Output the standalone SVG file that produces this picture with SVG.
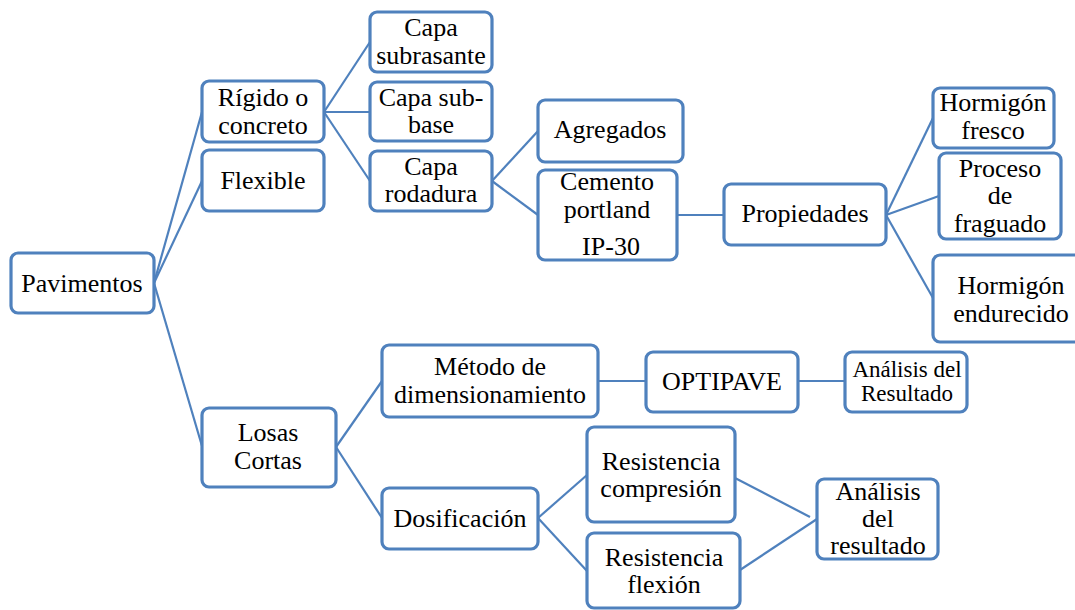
<svg xmlns="http://www.w3.org/2000/svg" width="1075" height="610" viewBox="0 0 1075 610">
<style>
.b{fill:#fff;stroke:#4F81BD;stroke-width:3.2}
.c line{stroke:#4F81BD;stroke-width:2.2}
.t{font-family:"Liberation Serif","Times New Roman",serif;font-size:26px;fill:#000;text-anchor:middle}
.s{font-size:23px}
</style>
<rect width="1075" height="610" fill="#fff"/>
<g class="c" id="connectors">
<line x1="154" y1="283" x2="202" y2="112"/>
<line x1="154" y1="283" x2="202" y2="181"/>
<line x1="154" y1="283" x2="202" y2="446"/>
<line x1="324" y1="112" x2="370" y2="42"/>
<line x1="324" y1="112" x2="370" y2="112"/>
<line x1="324" y1="112" x2="370" y2="181"/>
<line x1="492" y1="181" x2="538" y2="131"/>
<line x1="492" y1="181" x2="538" y2="215"/>
<line x1="677" y1="215" x2="724" y2="215"/>
<line x1="886" y1="215" x2="933" y2="118"/>
<line x1="886" y1="215" x2="939" y2="196"/>
<line x1="886" y1="215" x2="933" y2="298"/>
<line x1="336" y1="447" x2="382" y2="381"/>
<line x1="336" y1="447" x2="382" y2="518"/>
<line x1="598" y1="381" x2="646" y2="381"/>
<line x1="798" y1="381" x2="845" y2="381"/>
<line x1="538" y1="518" x2="587" y2="475"/>
<line x1="538" y1="518" x2="587" y2="571"/>
<line x1="735" y1="478" x2="810" y2="517"/>
<line x1="740" y1="570" x2="817" y2="519"/>
</g>
<g id="pavimentos"><rect class="b" x="11" y="253" width="143" height="60" rx="7"/><text class="t" x="82" y="292">Pavimentos</text></g>
<g id="rigido"><rect class="b" x="202" y="81" width="122" height="61" rx="7"/><text class="t" x="263" y="106">Rígido o</text><text class="t" x="263" y="134">concreto</text></g>
<g id="flexible"><rect class="b" x="202" y="150" width="122" height="61" rx="7"/><text class="t" x="263" y="189">Flexible</text></g>
<g id="losas"><rect class="b" x="202" y="408" width="134" height="79" rx="7"/><text class="t" x="268" y="441">Losas</text><text class="t" x="268" y="469">Cortas</text></g>
<g id="subrasante"><rect class="b" x="370" y="12" width="122" height="60" rx="7"/><text class="t" x="431" y="36">Capa</text><text class="t" x="431" y="64">subrasante</text></g>
<g id="subbase"><rect class="b" x="370" y="82" width="122" height="59" rx="7"/><text class="t" x="431" y="106">Capa sub-</text><text class="t" x="431" y="133">base</text></g>
<g id="rodadura"><rect class="b" x="370" y="151" width="122" height="60" rx="7"/><text class="t" x="431" y="175">Capa</text><text class="t" x="431" y="202">rodadura</text></g>
<g id="agregados"><rect class="b" x="538" y="100" width="145" height="62" rx="7"/><text class="t" x="610" y="138">Agregados</text></g>
<g id="cemento"><rect class="b" x="538" y="170" width="139" height="90" rx="7"/><text class="t" x="607" y="190">Cemento</text><text class="t" x="607" y="218">portland</text><text class="t" x="611" y="255">IP-30</text></g>
<g id="propiedades"><rect class="b" x="724" y="184" width="162" height="61" rx="7"/><text class="t" x="805" y="222">Propiedades</text></g>
<g id="fresco"><rect class="b" x="933" y="88" width="121" height="60" rx="7"/><text class="t" x="993" y="111">Hormigón</text><text class="t" x="993" y="139">fresco</text></g>
<g id="fraguado"><rect class="b" x="939" y="153" width="122" height="86" rx="7"/><text class="t" x="1000" y="177">Proceso</text><text class="t" x="1000" y="204">de</text><text class="t" x="1000" y="232">fraguado</text></g>
<g id="endurecido"><rect class="b" x="933" y="255" width="150" height="87" rx="7"/><text class="t" x="1011" y="294">Hormigón</text><text class="t" x="1011" y="322">endurecido</text></g>
<g id="metodo"><rect class="b" x="382" y="345" width="216" height="72" rx="7"/><text class="t" x="490" y="375">Método de</text><text class="t" x="490" y="403">dimensionamiento</text></g>
<g id="optipave"><rect class="b" x="646" y="352" width="152" height="60" rx="7"/><text class="t" x="722" y="390">OPTIPAVE</text></g>
<g id="analisis1"><rect class="b" x="845" y="352" width="122" height="60" rx="7"/><text class="t s" x="907" y="377">Análisis del</text><text class="t s" x="907" y="401">Resultado</text></g>
<g id="dosificacion"><rect class="b" x="382" y="488" width="156" height="61" rx="7"/><text class="t" x="460" y="527">Dosificación</text></g>
<g id="compresion"><rect class="b" x="587" y="427" width="148" height="95" rx="7"/><text class="t" x="661" y="470">Resistencia</text><text class="t" x="661" y="497">compresión</text></g>
<g id="flexion"><rect class="b" x="587" y="533" width="153" height="75" rx="7"/><text class="t" x="664" y="566">Resistencia</text><text class="t" x="664" y="593">flexión</text></g>
<g id="analisis2"><rect class="b" x="817" y="479" width="121" height="80" rx="7"/><text class="t" x="878" y="500">Análisis</text><text class="t" x="878" y="527">del</text><text class="t" x="878" y="554">resultado</text></g>
</svg>
